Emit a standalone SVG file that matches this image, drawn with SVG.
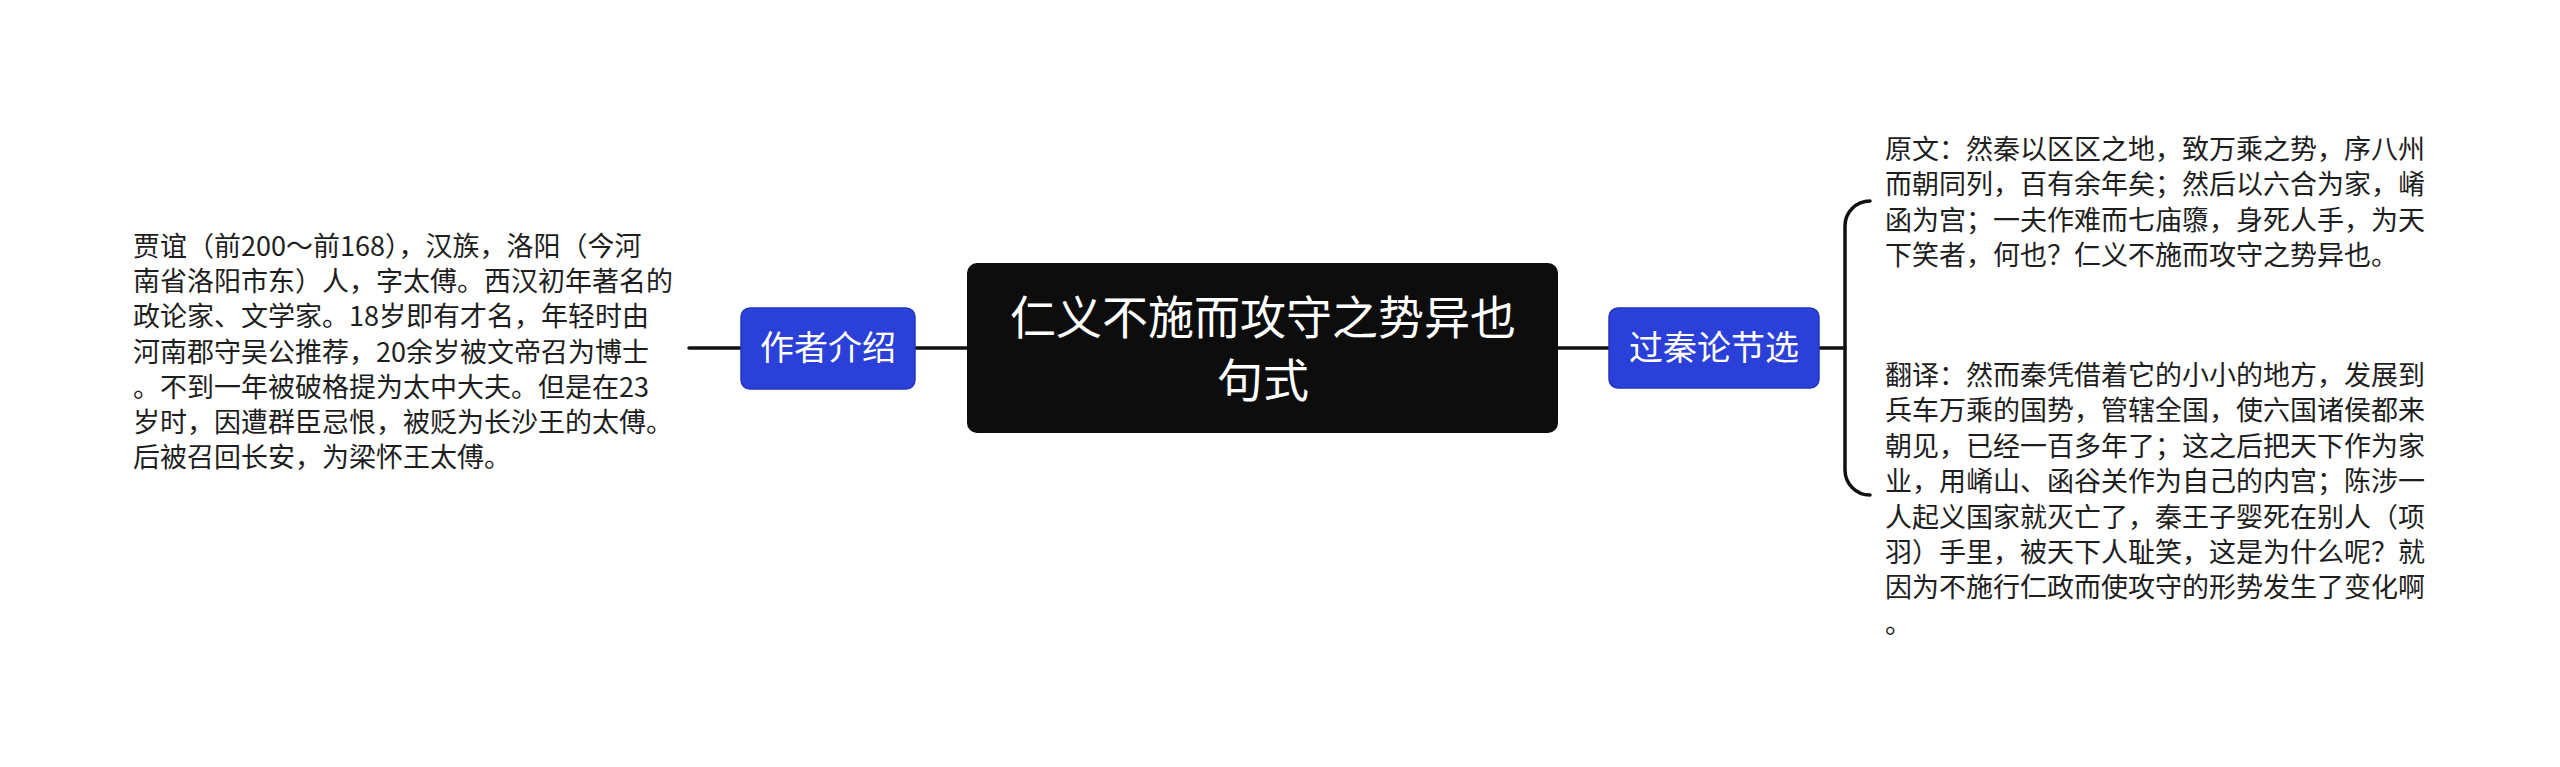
<svg xmlns="http://www.w3.org/2000/svg" width="2560" height="767" viewBox="0 0 2560 767">
<style>
.bg{fill:#ffffff}
.line{fill:none;stroke:#111111;stroke-width:3.5;stroke-linecap:round}
.root{fill:#0d0d0d}
.sub{fill:#2a40d8;stroke:#2235c2;stroke-width:1.5}
.t-root{font-family:"Noto Sans CJK SC","Noto Sans",sans-serif;font-size:46px;fill:#ffffff;text-anchor:middle}
.t-sub{font-family:"Noto Sans CJK SC","Noto Sans",sans-serif;font-size:34px;fill:#ffffff;text-anchor:middle}
.t-leaf{font-family:"Noto Sans CJK SC","Noto Sans",sans-serif;font-size:27px;fill:#1e1e1e}
</style>
<rect class="bg" x="0" y="0" width="2560" height="767"/>
<g id="connectors">
<path class="line" d="M689 348 L741 348"/>
<path class="line" d="M915 348 L967 348"/>
<path class="line" d="M1558 348 L1609 348"/>
<path class="line" d="M1819 348 L1845 348"/>
<path class="line" d="M1870 201 A25 25 0 0 0 1845 226 L1845 470 A25 25 0 0 0 1870 495"/>
</g>
<g id="root">
<rect class="root" x="967" y="263" width="591" height="170" rx="10"/>
<text class="t-root" x="1263" y="334">仁义不施而攻守之势异也</text>
<text class="t-root" x="1263" y="397">句式</text>
</g>
<g id="author">
<rect class="sub" x="741" y="308" width="174" height="81" rx="9"/>
<text class="t-sub" x="828" y="360">作者介绍</text>
</g>
<g id="author-text">
<text class="t-leaf" x="133" y="256">贾谊（前200～前168），汉族，洛阳（今河</text>
<text class="t-leaf" x="133" y="291">南省洛阳市东）人，字太傅。西汉初年著名的</text>
<text class="t-leaf" x="133" y="326">政论家、文学家。18岁即有才名，年轻时由</text>
<text class="t-leaf" x="133" y="362">河南郡守吴公推荐，20余岁被文帝召为博士</text>
<text class="t-leaf" x="133" y="397">。不到一年被破格提为太中大夫。但是在23</text>
<text class="t-leaf" x="133" y="432">岁时，因遭群臣忌恨，被贬为长沙王的太傅。</text>
<text class="t-leaf" x="133" y="467">后被召回长安，为梁怀王太傅。</text>
</g>
<g id="excerpt">
<rect class="sub" x="1609" y="308" width="210" height="80" rx="9"/>
<text class="t-sub" x="1714" y="360">过秦论节选</text>
</g>
<g id="original">
<text class="t-leaf" x="1885" y="159">原文：然秦以区区之地，致万乘之势，序八州</text>
<text class="t-leaf" x="1885" y="194">而朝同列，百有余年矣；然后以六合为家，崤</text>
<text class="t-leaf" x="1885" y="230">函为宫；一夫作难而七庙隳，身死人手，为天</text>
<text class="t-leaf" x="1885" y="265">下笑者，何也？仁义不施而攻守之势异也。</text>
</g>
<g id="translation">
<text class="t-leaf" x="1885" y="385">翻译：然而秦凭借着它的小小的地方，发展到</text>
<text class="t-leaf" x="1885" y="420">兵车万乘的国势，管辖全国，使六国诸侯都来</text>
<text class="t-leaf" x="1885" y="456">朝见，已经一百多年了；这之后把天下作为家</text>
<text class="t-leaf" x="1885" y="491">业，用崤山、函谷关作为自己的内宫；陈涉一</text>
<text class="t-leaf" x="1885" y="527">人起义国家就灭亡了，秦王子婴死在别人（项</text>
<text class="t-leaf" x="1885" y="562">羽）手里，被天下人耻笑，这是为什么呢？就</text>
<text class="t-leaf" x="1885" y="597">因为不施行仁政而使攻守的形势发生了变化啊</text>
<text class="t-leaf" x="1885" y="633">。</text>
</g>
</svg>
